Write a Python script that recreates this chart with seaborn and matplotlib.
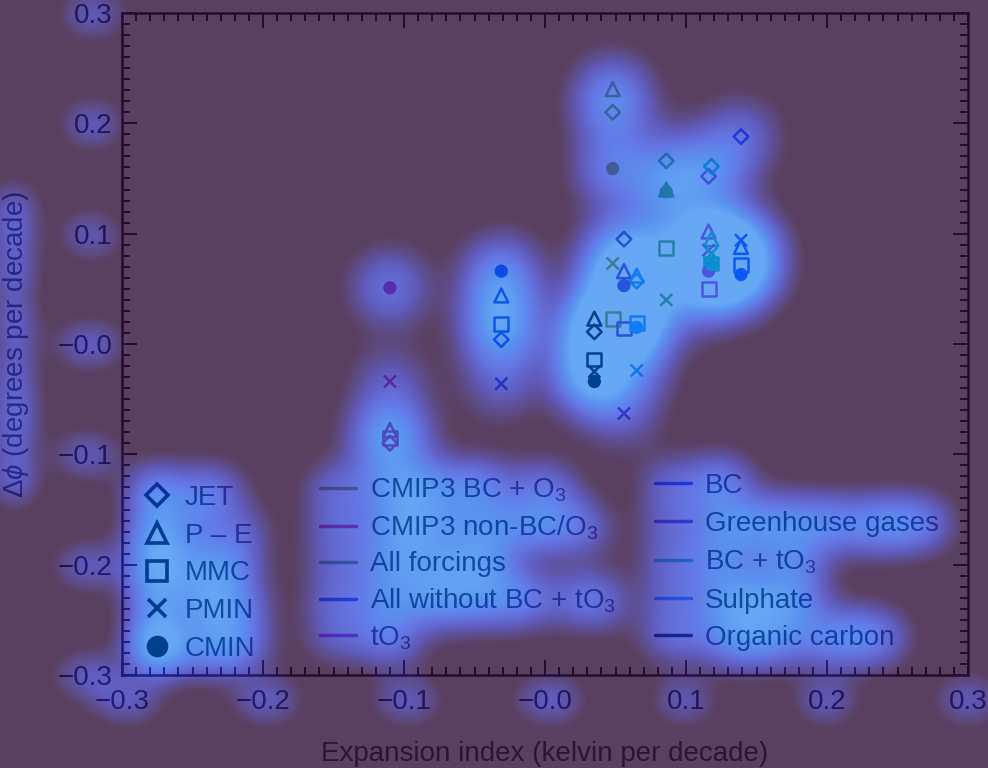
import numpy as np
import pandas as pd
import matplotlib
matplotlib.use("Agg")
import matplotlib.pyplot as plt
from matplotlib.lines import Line2D
from matplotlib.ticker import MultipleLocator, FixedLocator, FixedFormatter
import seaborn as sns

sns.set_style("ticks")
plt.rcParams["font.family"] = ["Liberation Sans", "DejaVu Sans"]
plt.rcParams["mathtext.fontset"] = "custom"
plt.rcParams["mathtext.rm"] = "Liberation Sans"
plt.rcParams["mathtext.it"] = "Liberation Sans:italic"
plt.rcParams["mathtext.default"] = "regular"

# forcing experiments (legend order)
experiments = ["CMIP3 BC + O$_3$", "CMIP3 non-BC/O$_3$", "All forcings",
               "All without BC + tO$_3$", "tO$_3$", "BC", "Greenhouse gases",
               "BC + tO$_3$", "Sulphate", "Organic carbon"]
exp_colors = ["#a08c10", "#d0286e", "#5aa040", "#2040e0", "#c030d0",
              "#1a3cff", "#6030c0", "#20c0a0", "#3090ff", "#000000"]

# expansion index (K per decade)
expansion_index = [0.048, -0.110, 0.086, -0.031, 0.116, 0.139, 0.056, 0.118, 0.065, 0.035]

# tropical widening (degrees per decade) per diagnostic
jet = [0.210, -0.090, 0.166, 0.004, 0.152, 0.188, 0.095, 0.161, 0.057, 0.011]
p_e = [0.231, -0.078, 0.140, 0.044, 0.102, 0.088, 0.066, 0.095, 0.062, 0.023]
mmc = [0.023, -0.085, 0.087, 0.018, 0.050, 0.072, 0.014, 0.073, 0.019, -0.014]
pmin = [0.073, -0.034, 0.040, -0.036, 0.085, 0.094, -0.063, 0.082, -0.024, -0.025]
cmin = [0.159, 0.051, 0.138, 0.066, 0.066, 0.063, 0.053, 0.072, 0.015, -0.034]

diagnostics = ["JET", "P – E", "MMC", "PMIN", "CMIN"]
diag_markers = ["D", "^", "s", "x", "o"]
diag_sizes = [55, 100, 100, 75, 60]

tick_vals = [-0.3, -0.2, -0.1, 0.0, 0.1, 0.2, 0.3]
tick_text = ["−0.3", "−0.2", "−0.1", "−0.0", "0.1", "0.2", "0.3"]

rows = []
for vals, d in zip([jet, p_e, mmc, pmin, cmin], diagnostics):
    for e, x, v in zip(experiments, expansion_index, vals):
        rows.append((e, d, x, v))
df = pd.DataFrame(rows, columns=["experiment", "diagnostic", "expansion", "dphi"])
palette = dict(zip(experiments, exp_colors))

W, H = 988, 768
fig = plt.figure(figsize=(W / 100, H / 100), dpi=100)
ax = fig.add_axes([122 / W, 1 - 675 / H, 846 / W, 662 / H])

for d, m, s in zip(diagnostics, diag_markers, diag_sizes):
    sub = df[df.diagnostic == d]
    sns.scatterplot(data=sub, x="expansion", y="dphi", hue="experiment",
                    palette=palette, marker=m, s=s, linewidth=1.8,
                    legend=False, ax=ax)
    pts = ax.collections[-1]
    if m != "x":
        pts.set_edgecolors(pts.get_facecolors())
    if m in ("D", "^", "s"):
        pts.set_facecolors("none")

ax.set_xlim(-0.3, 0.3)
ax.set_ylim(-0.3, 0.3)
ax.xaxis.set_major_locator(FixedLocator(tick_vals))
ax.xaxis.set_major_formatter(FixedFormatter(tick_text))
ax.yaxis.set_major_locator(FixedLocator(tick_vals))
ax.yaxis.set_major_formatter(FixedFormatter(tick_text))
ax.xaxis.set_minor_locator(MultipleLocator(0.01))
ax.yaxis.set_minor_locator(MultipleLocator(0.01))
ax.tick_params(which="both", direction="in", top=True, right=True,
               width=1.4, colors="black", labelsize=20)
ax.tick_params(which="major", length=11)
ax.tick_params(which="minor", length=5.5)
ax.tick_params(axis="x", which="major", pad=10)
ax.tick_params(axis="y", which="major", pad=7)
for sp in ax.spines.values():
    sp.set_linewidth(1.8)
    sp.set_color("black")
ax.set_xlabel("Expansion index (kelvin per decade)", fontsize=20, labelpad=19)
ax.set_ylabel("Δ$\\mathit{\\phi}$ (degrees per decade)", fontsize=20, labelpad=19)

# legends
mk_handles = [Line2D([0], [0], marker=m, color="black", ls="none",
                     mfc="black" if m == "o" else "none", markersize=ms, mew=2.6)
              for m, ms in zip(diag_markers, [11, 15, 15, 13, 13])]
leg_kw = dict(loc="upper left", bbox_transform=fig.transFigure, frameon=False,
              fontsize=20, handletextpad=0.5, borderpad=0, borderaxespad=0)
leg1 = ax.legend(mk_handles, diagnostics, bbox_to_anchor=(143 / W, 1 - 485 / H),
                 handlelength=1.0, labelspacing=0.42, **leg_kw)
ax.add_artist(leg1)

line_handles = [Line2D([0], [0], color=c, lw=2.5) for c in exp_colors]
leg2 = ax.legend(line_handles[:5], experiments[:5], bbox_to_anchor=(320 / W, 1 - 477 / H),
                 handlelength=1.3, labelspacing=0.33, **leg_kw)
ax.add_artist(leg2)
leg3 = ax.legend(line_handles[5:], experiments[5:], bbox_to_anchor=(655 / W, 1 - 473 / H),
                 handlelength=1.3, labelspacing=0.42, **leg_kw)
legends = [leg1, leg2, leg3]
scatters = list(ax.collections)


# ---- heat overlay built from where the ink is ----
def ink_map():
    fig.canvas.draw()
    rgb = np.asarray(fig.canvas.buffer_rgba())[:, :, :3].astype(float)
    return (255 - rgb.min(axis=2)) / 255


def blur(img, s):
    h, w = img.shape
    p = int(3 * s)
    a = np.pad(img, p)
    fy = np.fft.fftfreq(a.shape[0])[:, None]
    fx = np.fft.rfftfreq(a.shape[1])[None, :]
    g = np.exp(-2 * (np.pi * s) ** 2 * (fx ** 2 + fy ** 2))
    out = np.fft.irfft2(np.fft.rfft2(a) * g, s=a.shape)
    return out[p:p + h, p:p + w]


def show(marks, legs, labels):
    for c in scatters:
        c.set_visible(marks)
    for lg in legends:
        lg.set_visible(legs)
    ax.xaxis.set_visible(labels)
    ax.yaxis.set_visible(labels)
    ax.xaxis.label.set_visible(False)


for sp in ax.spines.values():
    sp.set_visible(False)
ax.tick_params(which="both", length=0)
show(True, False, False)
ink_marks = ink_map()
show(False, True, False)
ink_legs = ink_map()
show(False, False, True)
ink_labels = ink_map()

# restore
show(True, True, True)
ax.xaxis.label.set_visible(True)
for sp in ax.spines.values():
    sp.set_visible(True)
ax.tick_params(which="major", length=11)
ax.tick_params(which="minor", length=5.5)

raw = 2.0 * blur(ink_marks, 26) + 0.9 * blur(ink_legs, 20) + 0.35 * blur(ink_labels, 16)
heat = np.clip((raw - 0.008) / 0.12, 0, 1) ** 0.9

lev = [0.0, 0.25, 0.5, 0.75, 1.0]
targets = np.array([[90, 64, 96], [96, 90, 185], [100, 118, 228],
                    [90, 145, 240], [80, 168, 245]], float)
alpha = 0.8 - 0.2 * heat
rgba = np.zeros(heat.shape + (4,))
for k in range(3):
    t = np.interp(heat, lev, targets[:, k])
    rgba[..., k] = np.clip((t - (1 - alpha) * 255) / alpha, 0, 255) / 255
rgba[..., 3] = alpha
fig.figimage(rgba, xo=0, yo=0, origin="upper", zorder=10)

fig.savefig("out.png", dpi=100)
